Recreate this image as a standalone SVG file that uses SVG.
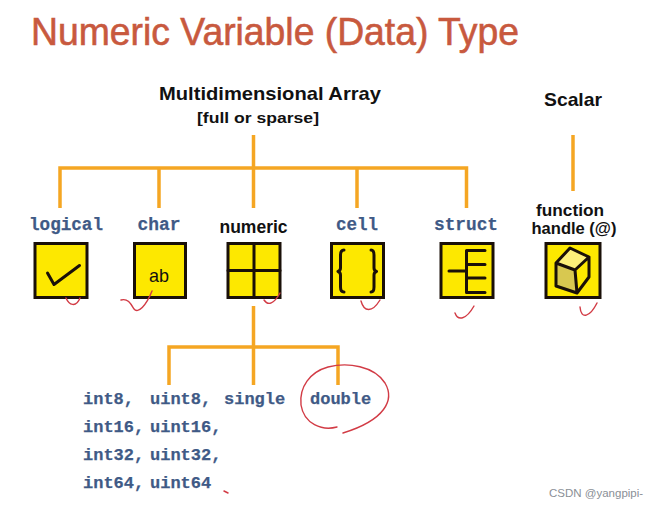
<svg xmlns="http://www.w3.org/2000/svg" width="650" height="506" viewBox="0 0 650 506">
<style>
.mono{font-family:"Liberation Mono",monospace;font-weight:700;font-size:17px;fill:#3f5a86;stroke:#3f5a86;stroke-width:.25}
.label{font-size:18.500px}
.sans{font-family:"Liberation Sans",Arial,sans-serif;font-weight:700;fill:#111}
.box{fill:#fde800;stroke:#1a1008;stroke-width:3}
.ink{fill:none;stroke:#1a1008;stroke-width:3;stroke-linecap:round;stroke-linejoin:round}
.or{fill:none;stroke:#f5a623;stroke-width:3.5}
.red{fill:none;stroke:#d23b45;stroke-width:1.400;stroke-linecap:round;stroke-linejoin:round}
</style>
<rect width="650" height="506" fill="#fff"/>
<text id="title" x="31" y="45" font-family="Liberation Sans,Arial,sans-serif" font-size="39" fill="#c8593e" stroke="#c8593e" stroke-width=".6" textLength="488" lengthAdjust="spacingAndGlyphs">Numeric Variable (Data) Type</text>
<g id="connectors" class="or">
<path d="M253.500 135V208M60 208V168H466.500V208M159 168V208M357 168V208"/>
<path d="M573 135V191"/>
<path d="M253.500 306V385M169 385V347H338V385"/>
</g>
<g id="root"><text class="sans" x="270" y="100" font-size="19" text-anchor="middle" textLength="222" lengthAdjust="spacingAndGlyphs">Multidimensional Array</text><text class="sans" x="258" y="123" font-size="15.500" text-anchor="middle" textLength="122" lengthAdjust="spacingAndGlyphs">[full or sparse]</text></g>
<g id="scalar"><text class="sans" x="573" y="106" font-size="18.500" text-anchor="middle" textLength="58" lengthAdjust="spacingAndGlyphs">Scalar</text></g>
<g id="logical"><text class="mono label" x="66" y="230" text-anchor="middle" textLength="74" lengthAdjust="spacingAndGlyphs">logical</text><rect class="box" x="35" y="243.500" width="52" height="54"/><path class="ink" d="M47.500 273L54 284.500L79.500 265.500"/></g>
<g id="char"><text class="mono label" x="159" y="230" text-anchor="middle" textLength="43" lengthAdjust="spacingAndGlyphs">char</text><rect class="box" x="134.500" y="243.500" width="51" height="54"/><text x="159" y="282" text-anchor="middle" font-family="Liberation Sans,Arial,sans-serif" font-size="19" fill="#111" textLength="20" lengthAdjust="spacingAndGlyphs">ab</text></g>
<g id="numeric"><text class="sans" x="253.500" y="233" text-anchor="middle" font-size="17.500">numeric</text><rect class="box" x="228" y="243.500" width="52" height="54"/><path class="ink" d="M254 243.500V297.500M228 270.500H280"/></g>
<g id="cell"><text class="mono label" x="357" y="230" text-anchor="middle" textLength="42" lengthAdjust="spacingAndGlyphs">cell</text><rect class="box" x="331.500" y="243.500" width="52" height="54"/><path class="ink" d="M344 250C341 250 340.500 252 340.500 255V268C340.500 270 339.500 271 338 271.500C339.500 272 340.500 273 340.500 275V287C340.500 290 341 292 344 292M371 250C373.500 250 374 252 374 255V268C374 270 375 271 376.500 271.500C375 272 374 273 374 275V287C374 290 373.500 292 371 292"/></g>
<g id="struct"><text class="mono label" x="466" y="230" text-anchor="middle" textLength="64" lengthAdjust="spacingAndGlyphs">struct</text><rect class="box" x="441" y="243.500" width="52" height="54"/><path class="ink" d="M449 271H466.500M485 250.500H466.500V292.500H485M466.500 264.500H485M466.500 278H485"/></g>
<g id="handle"><text class="sans" x="570" y="216" text-anchor="middle" font-size="16.500" textLength="68" lengthAdjust="spacingAndGlyphs">function</text><text class="sans" x="574" y="234" text-anchor="middle" font-size="16.500" textLength="85" lengthAdjust="spacingAndGlyphs">handle (@)</text><rect class="box" x="546" y="243.500" width="54" height="54"/><path d="M556 263L570 248L589 257L575 270Z" fill="#fdf07a"/><path d="M556 263L575 270L577 293L556 286Z" fill="#d8c850"/><path d="M575 270L589 257V277L577 293Z" fill="#fde800"/><path class="ink" d="M556 263L570 248L589 257V277L577 293L556 286ZM556 263L575 270L577 293M575 270L589 257"/></g>
<g id="types">
<text class="mono" x="83" y="404">int8,</text><text class="mono" x="150" y="404">uint8,</text><text class="mono" x="224" y="404">single</text><text class="mono" x="310" y="404">double</text>
<text class="mono" x="83" y="432">int16,</text><text class="mono" x="150" y="432">uint16,</text>
<text class="mono" x="83" y="460">int32,</text><text class="mono" x="150" y="460">uint32,</text>
<text class="mono" x="83" y="488">int64,</text><text class="mono" x="150" y="488">uint64</text>
</g>
<g id="annotations" class="red">
<path d="M66 298C69 305 76 308 80 298"/>
<path d="M121 300C128 298 131 304 134 309C138 314 146 306 152 291"/>
<path d="M264 300C268 306 274 304 280 293"/>
<path d="M361 301C364 312 372 313 380 300"/>
<path d="M455 313C458 321 466 320 474 306"/>
<path d="M580 307C581 320 590 317 597 303"/>
<path d="M337 427C322 431 304 424 301 405C299 387 310 372 328 367C348 362 374 366 385 383C395 400 385 420 343 433"/>
<path d="M224 491L228 493" stroke-width="1.500"/>
</g>
<text id="watermark" x="549" y="497" font-family="Liberation Sans,Arial,sans-serif" font-size="11.500" fill="#8a8f96">CSDN @yangpipi-</text>
</svg>
